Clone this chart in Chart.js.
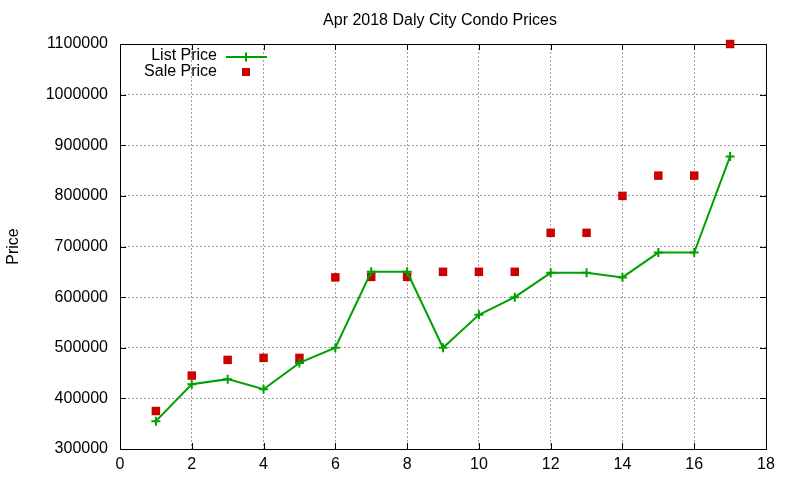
<!DOCTYPE html>
<html>
<head>
<meta charset="utf-8">
<script src="https://cdn.jsdelivr.net/npm/chart.js@4/dist/chart.umd.min.js"></script>
<style>
html,body{margin:0;padding:0;background:#fff;}
#wrap{width:800px;height:480px;}
</style>
</head>
<body>
<div id="wrap"><canvas id="c" width="800" height="480"></canvas></div>
<script>
const chartTitle = 'Apr 2018 Daly City Condo Prices';
const yTitle = 'Price';
const units = [1,2,3,4,5,6,7,8,9,10,11,12,13,14,15,16,17];
const listPrice = [355000,428000,438000,418000,470000,500000,650000,650000,500000,565000,600000,648000,648000,639000,688000,688000,878000];
const salePrice = [375000,445000,476000,480000,480000,639000,640000,640000,650000,650000,650000,727000,727000,800000,840000,840000,1100000];
const xTicks = [0,2,4,6,8,10,12,14,16,18];
const yTicks = [300000,400000,500000,600000,700000,800000,900000,1000000,1100000];

const FONT = 'Liberation Sans, Arial, sans-serif';
const FS = 16;
const GREEN = '#00a000';
const RED = '#cc0000';

const framePlugin = {
  id: 'frame',
  beforeDatasetsDraw(chart) {
    const ctx = chart.ctx, a = chart.chartArea;
    const xs = chart.scales.x, ys = chart.scales.y;
    ctx.save();
    ctx.strokeStyle = '#000';
    ctx.lineWidth = 1;
    ctx.strokeRect(Math.round(a.left)+0.5, Math.round(a.top)+0.5, Math.round(a.right-a.left), Math.round(a.bottom-a.top));
    const L = 6;
    ctx.beginPath();
    xTicks.forEach(v => {
      const px = Math.round(xs.getPixelForValue(v)) + 0.5;
      ctx.moveTo(px, a.bottom); ctx.lineTo(px, a.bottom - L);
      ctx.moveTo(px, a.top); ctx.lineTo(px, a.top + L);
    });
    yTicks.forEach(v => {
      const py = Math.round(ys.getPixelForValue(v)) + 0.5;
      ctx.moveTo(a.left, py); ctx.lineTo(a.left + L, py);
      ctx.moveTo(a.right, py); ctx.lineTo(a.right - L, py);
    });
    ctx.stroke();
    ctx.restore();
  },
  afterDraw(chart) {
    const ctx = chart.ctx, a = chart.chartArea;
    ctx.save();
    // title
    ctx.fillStyle = '#000';
    ctx.font = FS + 'px ' + FONT;
    ctx.textAlign = 'center';
    ctx.textBaseline = 'middle';
    ctx.fillText(chartTitle, (a.left + a.right) / 2 - 3, 21);
    // legend
    const ds = chart.data.datasets;
    ctx.textAlign = 'right';
    ctx.fillText(ds[0].label, a.left + 97, a.top + 12);
    ctx.fillText(ds[1].label, a.left + 97, a.top + 28);
    ctx.strokeStyle = GREEN;
    ctx.lineWidth = 2;
    ctx.beginPath();
    ctx.moveTo(a.left + 106, a.top + 13); ctx.lineTo(a.left + 147, a.top + 13);
    ctx.moveTo(a.left + 126, a.top + 8.5); ctx.lineTo(a.left + 126, a.top + 17.5);
    ctx.stroke();
    ctx.fillStyle = RED;
    ctx.fillRect(a.left + 122, a.top + 24, 8, 8);
    ctx.restore();
  }
};

new Chart(document.getElementById('c'), {
  type: 'scatter',
  data: {
    datasets: [
      {
        label: 'List Price',
        data: units.map((u, i) => ({x: u, y: listPrice[i]})),
        showLine: true,
        borderColor: GREEN,
        backgroundColor: GREEN,
        borderWidth: 2,
        pointStyle: 'cross',
        pointRadius: 4.5,
        pointBorderWidth: 2,
        pointBorderColor: GREEN,
        tension: 0,
        clip: false
      },
      {
        label: 'Sale Price',
        data: units.map((u, i) => ({x: u, y: salePrice[i]})),
        showLine: false,
        borderColor: RED,
        backgroundColor: RED,
        pointStyle: 'rect',
        pointRadius: 6,
        pointBorderWidth: 0,
        clip: false
      }
    ]
  },
  options: {
    responsive: false,
    animation: false,
    devicePixelRatio: 1,
    layout: { padding: { top: 44, right: 34, bottom: 0, left: 0 } },
    plugins: { legend: { display: false }, title: { display: false }, tooltip: { enabled: false } },
    scales: {
      x: {
        type: 'linear', min: 0, max: 18,
        afterBuildTicks(s) { s.ticks = xTicks.map(v => ({value: v})); },
        afterFit(s) { s.height = 31; },
        ticks: { color: '#000', font: { family: FONT, size: FS }, padding: 6, maxRotation: 0 },
        grid: {
          color: c => (c.tick && (c.tick.value === 0 || c.tick.value === 18)) ? 'rgba(0,0,0,0)' : '#a0a0a0',
          lineWidth: 1, drawTicks: false
        },
        border: { display: false, dash: [2, 2] }
      },
      y: {
        type: 'linear', min: 300000, max: 1100000,
        afterBuildTicks(s) { s.ticks = yTicks.map(v => ({value: v})); },
        afterFit(s) { s.width = 120; },
        ticks: { color: '#000', font: { family: FONT, size: FS }, padding: 12, callback: v => String(v) },
        title: { display: true, text: yTitle, color: '#000', font: { family: FONT, size: FS }, padding: { top: 4, bottom: 0 } },
        grid: {
          color: c => (c.tick && (c.tick.value === 300000 || c.tick.value === 1100000)) ? 'rgba(0,0,0,0)' : '#a0a0a0',
          lineWidth: 1, drawTicks: false
        },
        border: { display: false, dash: [2, 2] }
      }
    }
  },
  plugins: [framePlugin]
});
</script>
</body>
</html>
